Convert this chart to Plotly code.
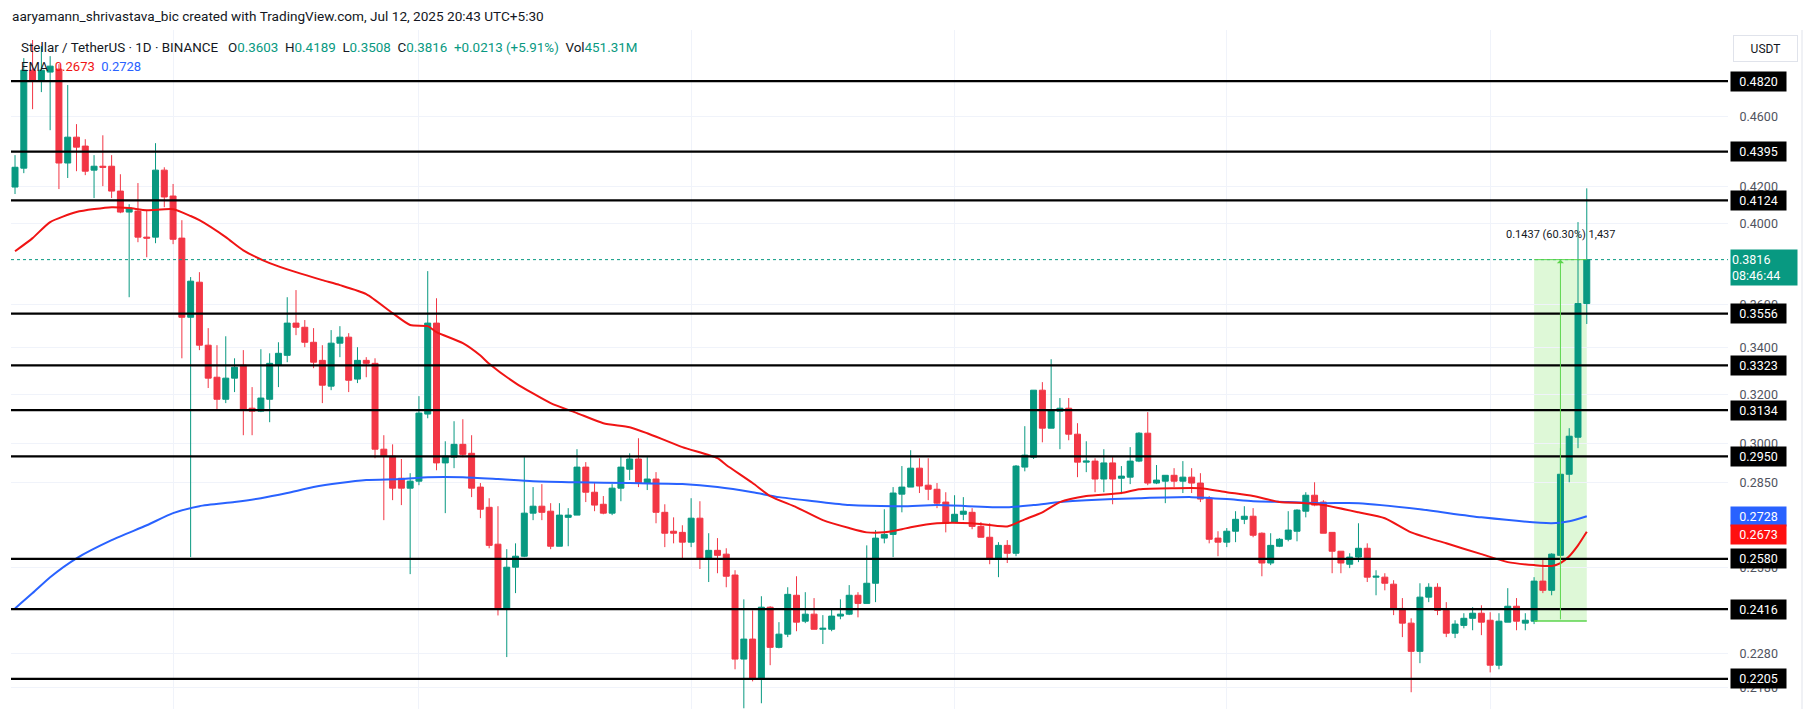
import numpy as np
import pandas as pd
import plotly.graph_objects as go

# ---------------- data ----------------
start_date = "2025-01-14"

opens = [0.4196,0.4301,0.4889,0.4820,0.4877,0.4896,0.4330,0.4479,0.4427,0.4290,
         0.4312,0.4312,0.4174,0.4061,0.4066,0.3930,0.3930,0.4290,0.4147,0.3925,
         0.3539,0.3705,0.3412,0.3272,0.3179,0.3268,0.3324,0.3142,0.3130,0.3179,
         0.3324,0.3367,0.3512,0.3493,0.3425,0.3345,0.3234,0.3421,0.3448,0.3264,
         0.3345,0.3332,0.2978,0.2951,0.2867,0.2830,0.2856,0.3118,0.3512,0.2925,
         0.2947,0.2997,0.2962,0.2834,0.2760,0.2630,0.2415,0.2552,0.2589,0.2739,
         0.2764,0.2746,0.2623,0.2724,0.2732,0.2909,0.2815,0.2771,0.2739,0.2830,
         0.2901,0.2940,0.2849,0.2864,0.2742,0.2675,0.2671,0.2637,0.2721,0.2582,
         0.2609,0.2596,0.2526,0.2263,0.2323,0.2204,0.2422,0.2298,0.2338,0.2460,
         0.2378,0.2400,0.2353,0.2353,0.2394,0.2400,0.2460,0.2434,0.2499,0.2651,
         0.2664,0.2808,0.2834,0.2905,0.2841,0.2826,0.2779,0.2707,0.2735,0.2742,
         0.2692,0.2654,0.2579,0.2626,0.2599,0.2909,0.2947,0.3217,0.3061,0.3130,
         0.3142,0.3037,0.2928,0.2932,0.2864,0.2925,0.2867,0.2871,0.2932,0.3041,
         0.2849,0.2856,0.2878,0.2856,0.2871,0.2849,0.2793,0.2651,0.2637,0.2675,
         0.2717,0.2728,0.2668,0.2566,0.2623,0.2647,0.2675,0.2746,0.2804,0.2779,
         0.2671,0.2606,0.2562,0.2586,0.2616,0.2519,0.2519,0.2496,0.2418,0.2372,
         0.2286,0.2454,0.2486,0.2412,0.2341,0.2365,0.2387,0.2403,0.2381,0.2245,
         0.2375,0.2425,0.2372,0.2378,0.2506,0.2476,0.2592,0.2882,0.3025,0.3603]

highs = [0.4375,0.4967,0.5086,0.5046,0.4980,0.4928,0.4795,0.4556,0.4467,0.4375,
         0.4490,0.4375,0.4267,0.4103,0.4218,0.4071,0.4444,0.4306,0.4213,0.4018,
         0.3730,0.3754,0.3489,0.3412,0.3452,0.3354,0.3390,0.3230,0.3394,0.3376,
         0.3425,0.3633,0.3667,0.3526,0.3489,0.3412,0.3480,0.3498,0.3466,0.3403,
         0.3359,0.3354,0.3033,0.2997,0.2940,0.2886,0.3192,0.3759,0.3628,0.3009,
         0.3089,0.3097,0.3033,0.2849,0.2793,0.2764,0.2613,0.2633,0.2947,0.2834,
         0.2845,0.2775,0.2775,0.2757,0.2978,0.2928,0.2849,0.2801,0.2845,0.2951,
         0.2962,0.3021,0.2947,0.2890,0.2771,0.2724,0.2696,0.2793,0.2782,0.2668,
         0.2651,0.2616,0.2542,0.2447,0.2412,0.2457,0.2425,0.2375,0.2486,0.2522,
         0.2470,0.2451,0.2397,0.2418,0.2447,0.2493,0.2470,0.2626,0.2679,0.2753,
         0.2834,0.2913,0.2974,0.2943,0.2943,0.2849,0.2815,0.2804,0.2797,0.2757,
         0.2707,0.2703,0.2637,0.2644,0.2917,0.3069,0.3217,0.3251,0.3350,0.3184,
         0.3184,0.3081,0.3009,0.2943,0.2978,0.2947,0.2913,0.2986,0.3045,0.3126,
         0.2917,0.2878,0.2905,0.2932,0.2905,0.2886,0.2801,0.2675,0.2686,0.2746,
         0.2764,0.2757,0.2671,0.2668,0.2651,0.2746,0.2753,0.2815,0.2852,0.2786,
         0.2671,0.2606,0.2599,0.2703,0.2633,0.2542,0.2532,0.2509,0.2451,0.2387,
         0.2499,0.2499,0.2499,0.2438,0.2381,0.2403,0.2422,0.2428,0.2406,0.2403,
         0.2483,0.2451,0.2403,0.2519,0.2576,0.2599,0.2982,0.3061,0.4008,0.4189]

lows = [0.4158,0.4273,0.4646,0.4751,0.4520,0.4185,0.4246,0.4284,0.4262,0.4136,
        0.4201,0.4136,0.4055,0.3633,0.3904,0.3828,0.3899,0.4087,0.3894,0.3354,
        0.2586,0.3390,0.3226,0.3134,0.3163,0.3209,0.3033,0.3033,0.3126,0.3085,
        0.3230,0.3337,0.3457,0.3403,0.3311,0.3163,0.3217,0.3359,0.3209,0.3247,
        0.3272,0.2943,0.2714,0.2786,0.2768,0.2529,0.2841,0.3101,0.2897,0.2739,
        0.2905,0.2947,0.2797,0.2721,0.2616,0.2396,0.2269,0.2467,0.2586,0.2714,
        0.2714,0.2613,0.2623,0.2623,0.2732,0.2779,0.2746,0.2735,0.2732,0.2782,
        0.2860,0.2834,0.2823,0.2703,0.2620,0.2633,0.2582,0.2620,0.2546,0.2503,
        0.2532,0.2486,0.2233,0.2122,0.2198,0.2136,0.2245,0.2295,0.2329,0.2347,
        0.2372,0.2353,0.2308,0.2347,0.2384,0.2397,0.2390,0.2434,0.2438,0.2633,
        0.2586,0.2742,0.2834,0.2812,0.2786,0.2757,0.2671,0.2707,0.2714,0.2682,
        0.2654,0.2562,0.2519,0.2566,0.2589,0.2893,0.2940,0.3005,0.3061,0.2978,
        0.3013,0.2871,0.2890,0.2815,0.2815,0.2771,0.2808,0.2845,0.2928,0.2841,
        0.2845,0.2775,0.2834,0.2812,0.2812,0.2779,0.2633,0.2589,0.2620,0.2637,
        0.2700,0.2654,0.2522,0.2559,0.2620,0.2640,0.2640,0.2724,0.2764,0.2668,
        0.2532,0.2532,0.2549,0.2569,0.2503,0.2460,0.2476,0.2397,0.2329,0.2167,
        0.2251,0.2438,0.2397,0.2329,0.2326,0.2356,0.2350,0.2335,0.2224,0.2233,
        0.2375,0.2350,0.2350,0.2369,0.2467,0.2460,0.2592,0.2852,0.2982,0.3508]

closes = [0.4306,0.4889,0.4820,0.4889,0.4915,0.4330,0.4479,0.4421,0.4284,0.4312,
          0.4306,0.4174,0.4061,0.4082,0.3930,0.3925,0.4290,0.4142,0.3919,0.3539,
          0.3710,0.3412,0.3268,0.3179,0.3268,0.3315,0.3138,0.3130,0.3184,0.3332,
          0.3376,0.3512,0.3493,0.3425,0.3337,0.3238,0.3421,0.3448,0.3259,0.3345,
          0.3332,0.2978,0.2951,0.2830,0.2830,0.2856,0.3122,0.3512,0.2925,0.2951,
          0.2997,0.2958,0.2830,0.2753,0.2626,0.2415,0.2552,0.2589,0.2739,0.2764,
          0.2742,0.2623,0.2732,0.2732,0.2909,0.2815,0.2768,0.2739,0.2830,0.2909,
          0.2940,0.2849,0.2864,0.2742,0.2668,0.2668,0.2637,0.2721,0.2582,0.2609,
          0.2592,0.2522,0.2263,0.2323,0.2204,0.2422,0.2298,0.2338,0.2463,0.2375,
          0.2400,0.2353,0.2356,0.2394,0.2400,0.2460,0.2434,0.2499,0.2651,0.2664,
          0.2812,0.2834,0.2905,0.2838,0.2826,0.2775,0.2703,0.2735,0.2746,0.2692,
          0.2654,0.2579,0.2626,0.2599,0.2913,0.2955,0.3217,0.3061,0.3134,0.3142,
          0.3037,0.2928,0.2932,0.2864,0.2925,0.2864,0.2875,0.2932,0.3041,0.2849,
          0.2860,0.2878,0.2856,0.2871,0.2849,0.2790,0.2647,0.2637,0.2675,0.2717,
          0.2728,0.2661,0.2566,0.2626,0.2647,0.2679,0.2750,0.2804,0.2768,0.2668,
          0.2606,0.2566,0.2586,0.2616,0.2519,0.2522,0.2499,0.2418,0.2372,0.2286,
          0.2454,0.2486,0.2412,0.2341,0.2369,0.2387,0.2403,0.2375,0.2245,0.2378,
          0.2425,0.2378,0.2381,0.2506,0.2476,0.2596,0.2882,0.3029,0.3603,0.3816]

# EMA lines at candle indices
ema_fast_idx = [0,2,4,7,11,13,15,18,20,21,24,26,29,32,35,37,40,43,45,47,48,51,53,54,
                57,61,64,67,70,72,76,80,81,84,86,89,92,95,97,99,101,102,105,109,113,
                115,117,119,122,126,128,132,135,138,141,144,147,149,153,156,159,163,
                167,170,173,175,176,177,178,179]
ema_fast_val = [0.3858,0.3925,0.4008,0.4061,0.4087,0.4082,0.4071,0.4076,0.4040,0.4018,
                0.3930,0.3863,0.3799,0.3754,0.3715,0.3691,0.3648,0.3558,0.3503,0.3498,
                0.3471,0.3421,0.3366,0.3330,0.3247,0.3163,0.3122,0.3081,0.3065,0.3041,
                0.2986,0.2943,0.2917,0.2849,0.2801,0.2760,0.2714,0.2686,0.2671,0.2671,
                0.2682,0.2689,0.2703,0.2703,0.2692,0.2717,0.2742,0.2779,0.2801,0.2812,
                0.2826,0.2830,0.2830,0.2815,0.2801,0.2779,0.2775,0.2768,0.2742,0.2721,
                0.2671,0.2633,0.2596,0.2569,0.2559,0.2556,0.2566,0.2589,0.2626,0.2673]

ema_slow_idx = [0,2,4,7,11,15,18,21,25,28,31,34,37,40,44,47,51,55,59,64,70,76,80,84,
                87,91,95,101,105,113,116,119,122,128,134,138,141,145,149,153,160,167,
                175,177,179]
ema_slow_val = [0.2418,0.2467,0.2519,0.2582,0.2644,0.2696,0.2739,0.2764,0.2779,0.2793,
                0.2812,0.2834,0.2849,0.2860,0.2864,0.2871,0.2871,0.2864,0.2856,0.2852,
                0.2849,0.2845,0.2834,0.2815,0.2797,0.2782,0.2768,0.2764,0.2768,0.2760,
                0.2768,0.2779,0.2786,0.2793,0.2797,0.2790,0.2782,0.2779,0.2775,0.2775,
                0.2753,0.2724,0.2703,0.2710,0.2728]

levels = [0.4820, 0.4395, 0.4124, 0.3556, 0.3323, 0.3134, 0.2950, 0.2580, 0.2416, 0.2205]
level_text = ["0.4820", "0.4395", "0.4124", "0.3556", "0.3323", "0.3134", "0.2950",
              "0.2580", "0.2416", "0.2205"]
tick_vals = [0.46, 0.42, 0.40, 0.36, 0.34, 0.32, 0.30, 0.285, 0.255, 0.228, 0.218]
tick_text = ["0.4600", "0.4200", "0.4000", "0.3600", "0.3400", "0.3200", "0.3000",
             "0.2850", "0.2550", "0.2280", "0.2180"]

last_price = 0.3816
ema_fast_last = 0.2673
ema_slow_last = 0.2728
measure_low = 0.2379
measure_high = 0.3816
measure_start, measure_end, measure_arrow = 173, 179, 176
measure_label = "0.1437 (60.30%) 1,437"

# ---------------- styling ----------------
W, H = 1814, 709
ML, MR, MT, MB = 11, 86, 30, 0
GREEN = "#089981"
RED = "#F23645"
EMA_RED = "#F01414"
EMA_BLUE = "#2962FF"
TXT = "#131722"
MEAS = "#5BD54D"
FONT = "Roboto"

dates = pd.date_range(start_date, periods=len(opens), freq="D")
x_lo = dates[0] - pd.Timedelta(hours=11)
x_hi = dates[0] + pd.Timedelta(hours=int(195.1 * 24))
y_lo, y_hi = 0.2120, 0.5153

fig = go.Figure()

fig.add_trace(go.Candlestick(
    x=dates, open=opens, high=highs, low=lows, close=closes,
    increasing=dict(line=dict(color=GREEN, width=1), fillcolor=GREEN),
    decreasing=dict(line=dict(color=RED, width=1), fillcolor=RED),
    whiskerwidth=0, showlegend=False, hoverinfo="skip"))

fig.add_trace(go.Scatter(
    x=[dates[i] for i in ema_slow_idx], y=ema_slow_val, mode="lines",
    line=dict(color=EMA_BLUE, width=2, shape="spline", smoothing=0.6),
    showlegend=False, hoverinfo="skip"))
fig.add_trace(go.Scatter(
    x=[dates[i] for i in ema_fast_idx], y=ema_fast_val, mode="lines",
    line=dict(color=EMA_RED, width=2, shape="spline", smoothing=0.6),
    showlegend=False, hoverinfo="skip"))

for lv in levels:
    fig.add_trace(go.Scatter(x=[x_lo, x_hi], y=[lv, lv], mode="lines",
                             line=dict(color="black", width=2.2),
                             showlegend=False, hoverinfo="skip"))

fig.add_trace(go.Scatter(x=[x_lo, x_hi], y=[last_price, last_price], mode="lines",
                         line=dict(color=GREEN, width=1, dash="dot"),
                         showlegend=False, hoverinfo="skip"))

# measurement box edges
ms, me, ma = dates[measure_start], dates[measure_end], dates[measure_arrow]
fig.add_shape(type="rect", xref="x", yref="y", x0=ms, x1=me, y0=measure_low, y1=measure_high,
              fillcolor="rgba(135,230,110,0.28)", line=dict(width=0), layer="below")
fig.add_trace(go.Scatter(x=[ms, me], y=[measure_low, measure_low], mode="lines",
                         line=dict(color=MEAS, width=1.5), showlegend=False, hoverinfo="skip"))
fig.add_trace(go.Scatter(x=[ms, me], y=[measure_high, measure_high], mode="lines",
                         line=dict(color=MEAS, width=1), showlegend=False, hoverinfo="skip"))
fig.add_annotation(x=ma, y=np.log10(measure_high), ax=ma, ay=np.log10(measure_low),
                   xref="x", yref="y", axref="x", ayref="y", showarrow=True, text="",
                   arrowhead=1, arrowsize=1.2, arrowwidth=1, arrowcolor=MEAS)
fig.add_annotation(x=ma, y=np.log10(measure_high), xref="x", yref="y", yshift=25,
                   text=measure_label, showarrow=False,
                   font=dict(family=FONT, size=11, color=TXT))

# right-side value labels
for lv, tx in zip(levels, level_text):
    fig.add_annotation(x=1, xref="paper", y=np.log10(lv), yref="y", xanchor="left",
                       xshift=2, text=tx, showarrow=False, bgcolor="black",
                       width=53, height=17, borderpad=1,
                       font=dict(family=FONT, size=12.5, color="white"))
fig.add_annotation(x=1, xref="paper", y=np.log10(ema_slow_last), yref="y", xanchor="left",
                   xshift=2, text=f"{ema_slow_last:.4f}", showarrow=False, bgcolor=EMA_BLUE,
                   width=53, height=17, borderpad=1,
                   font=dict(family=FONT, size=12.5, color="white"))
fig.add_annotation(x=1, xref="paper", y=np.log10(ema_fast_last), yref="y", xanchor="left",
                   xshift=2, yshift=-3, text=f"{ema_fast_last:.4f}", showarrow=False,
                   bgcolor="#FF1010", width=53, height=17, borderpad=1,
                   font=dict(family=FONT, size=12.5, color="white"))
fig.add_annotation(x=1, xref="paper", y=np.log10(last_price), yref="y", xanchor="left",
                   yanchor="middle", xshift=2, yshift=-8, align="left",
                   text=f"{last_price:.4f}<br>08:46:44", showarrow=False, bgcolor=GREEN,
                   width=64, height=33, borderpad=1,
                   font=dict(family=FONT, size=12.5, color="white"))
fig.add_annotation(x=1, xref="paper", y=1, yref="paper", xanchor="left", yanchor="top",
                   xshift=5, yshift=-5, text="USDT", showarrow=False, bgcolor="white",
                   bordercolor="#E0E3EB", borderwidth=1, width=61, height=23,
                   font=dict(family=FONT, size=12, color=TXT))

# header texts
sp = "\u00a0\u00a0"
def tv(v):
    return f"<span style='color:{GREEN}'>{v}</span>"
line2 = ("Stellar / TetherUS · 1D · BINANCE" + sp + "\u00a0O" + tv("0.3603") + sp + "H" + tv("0.4189")
         + sp + "L" + tv("0.3508") + sp + "C" + tv("0.3816") + sp + tv("+0.0213 (+5.91%)")
         + sp + "Vol" + tv("451.31M"))
line3 = ("EMA" + sp + f"<span style='color:{EMA_RED}'>{ema_fast_last:.4f}</span>" + sp
         + f"<span style='color:{EMA_BLUE}'>{ema_slow_last:.4f}</span>")
fig.add_annotation(x=0, xref="paper", y=1, yref="paper", xanchor="left", yanchor="middle",
                   xshift=-1, yshift=14, showarrow=False,
                   text="aaryamann_shrivastava_bic created with TradingView.com, Jul 12, 2025 20:43 UTC+5:30",
                   font=dict(family=FONT, size=13.6, color=TXT))
fig.add_annotation(x=0, xref="paper", y=1, yref="paper", xanchor="left", yanchor="middle",
                   xshift=8, yshift=-17, showarrow=False, text=line2,
                   font=dict(family=FONT, size=13.4, color=TXT))
fig.add_annotation(x=0, xref="paper", y=1, yref="paper", xanchor="left", yanchor="middle",
                   xshift=8, yshift=-36, showarrow=False, text=line3,
                   font=dict(family=FONT, size=13, color=TXT))

# price-scale border
plot_w = W - ML - MR
x_border = 1 + (1802 - (W - MR)) / plot_w
fig.add_shape(type="line", xref="paper", yref="paper", x0=x_border, x1=x_border, y0=0, y1=1,
              line=dict(color="#E0E3EB", width=1))

month_starts = pd.date_range("2025-02-01", "2025-07-01", freq="MS")

fig.update_layout(
    width=W, height=H, margin=dict(l=ML, r=MR, t=MT, b=MB),
    paper_bgcolor="white", plot_bgcolor="white",
    boxgap=0.32, boxgroupgap=0,
    showlegend=False,
    xaxis=dict(type="date", range=[x_lo, x_hi], rangeslider=dict(visible=False),
               tickvals=list(month_starts), showticklabels=False, ticks="",
               showgrid=True, gridcolor="#F0F3FA", gridwidth=1, zeroline=False,
               showline=False, fixedrange=True),
    yaxis=dict(type="log", side="right", range=[np.log10(y_lo), np.log10(y_hi)],
               tickvals=tick_vals, ticktext=tick_text, ticks="outside", ticklen=8,
               tickcolor="rgba(0,0,0,0)", showgrid=True, gridcolor="#F0F3FA",
               tickfont=dict(family=FONT, size=12.5, color="#50535E"),
               zeroline=False, showline=False, fixedrange=True),
)

fig.write_html("out.html")
